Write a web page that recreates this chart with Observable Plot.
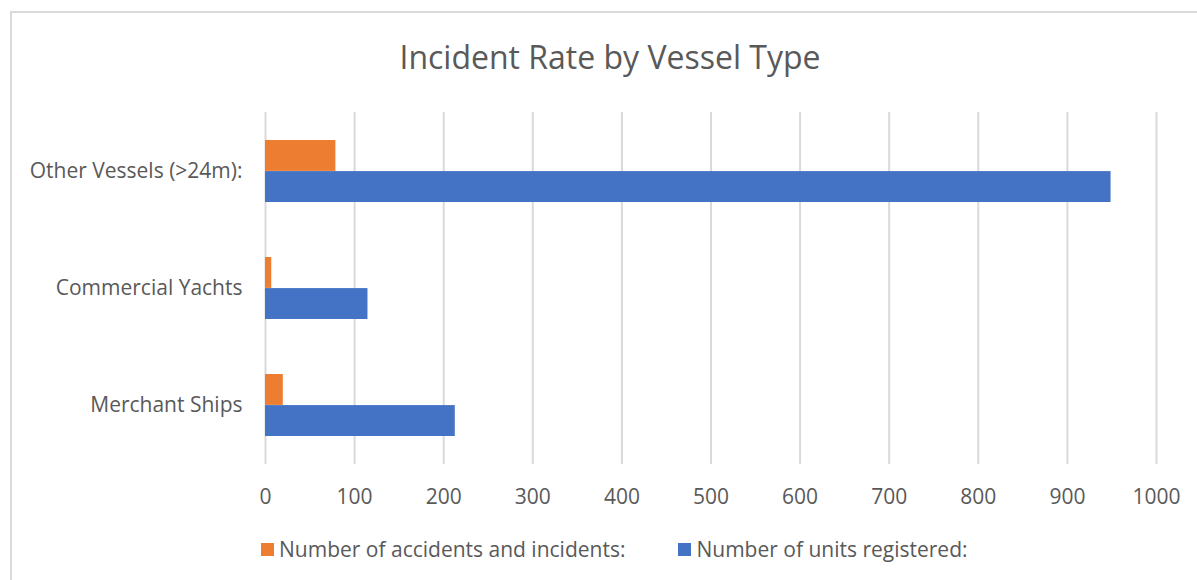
<!DOCTYPE html>
<html>
<head>
<meta charset="utf-8">
<script src="https://cdn.jsdelivr.net/npm/d3@7"></script>
<script src="https://cdn.jsdelivr.net/npm/@observablehq/plot@0.6"></script>
<style>
  html, body { margin: 0; padding: 0; background: #fff; }
  body { width: 1197px; height: 580px; position: relative; overflow: hidden; font-family: "Open Sans", sans-serif; color: #595959; }
  #frame { position: absolute; left: 10px; top: 11px; width: 1300px; height: 700px; border-left: 2px solid #d9d9d9; border-top: 2px solid #d9d9d9; }
  #title { position: absolute; left: 10px; width: 1200px; top: 37px; text-align: center; font-size: 32px; line-height: 40px; color: #595959; }
  #chart { position: absolute; left: 0; top: 100px; }
  #legend { position: absolute; top: 537px; left: 261px; display: flex; align-items: center; font-size: 21px; color: #595959; line-height: 24px; }
  .sw { display: inline-block; width: 13px; height: 13px; margin-right: 5px; }
  .item { display: flex; align-items: center; }
</style>
</head>
<body>
<div id="frame"></div>
<div id="title">Incident Rate by Vessel Type</div>
<div id="chart"></div>
<div id="legend"></div>
<script>
const categories = ["Merchant Ships", "Commercial Yachts", "Other Vessels (>24m):"];
const accidents = [20, 7, 79];
const registered = [213, 115, 949];
const seriesNames = ["Number of accidents and incidents:", "Number of units registered:"];
const seriesColors = ["#ED7D31", "#4472C4"];
const xTicks = [0, 100, 200, 300, 400, 500, 600, 700, 800, 900, 1000];

const rows = categories.map((c, i) => ({category: c, accidents: accidents[i], registered: registered[i]}));

const plotHeight = 410, marginTop = 12, marginBottom = 46;
const pInner = 0.47, pOuter = 0.235;
const step = (plotHeight - marginTop - marginBottom) / (categories.length - pInner + 2 * pOuter);
const half = step * (1 - pInner) / 2;

const chart = Plot.plot({
  width: 1197,
  height: plotHeight,
  marginTop, marginBottom,
  marginLeft: 265,
  marginRight: 41,
  style: {fontFamily: "'Open Sans', sans-serif", fontSize: "21px", color: "#595959", background: "transparent", overflow: "visible"},
  x: {domain: [0, 1000]},
  y: {domain: [...categories].reverse(), paddingInner: pInner, paddingOuter: pOuter, label: null},
  marks: [
    Plot.gridX(xTicks, {stroke: "#d9d9d9", strokeWidth: 2, strokeOpacity: 1}),
    Plot.barX(rows, {x: "accidents", y: "category", fill: seriesColors[0], insetBottom: half}),
    Plot.barX(rows, {x: "registered", y: "category", fill: seriesColors[1], insetTop: half}),
    Plot.axisX(xTicks, {tickSize: 0, tickPadding: 25, label: null, fill: "#595959", tickFormat: d => String(d)}),
    Plot.axisY({tickSize: 0, tickPadding: 23, label: null, fill: "#595959"})
  ]
});
document.getElementById("chart").appendChild(chart);

const legend = document.getElementById("legend");
seriesNames.forEach((name, i) => {
  const item = document.createElement("div");
  item.className = "item";
  if (i > 0) item.style.marginLeft = "53px";
  const sw = document.createElement("span");
  sw.className = "sw";
  sw.style.background = seriesColors[i];
  item.appendChild(sw);
  item.appendChild(document.createTextNode(name));
  legend.appendChild(item);
});
</script>
</body>
</html>
